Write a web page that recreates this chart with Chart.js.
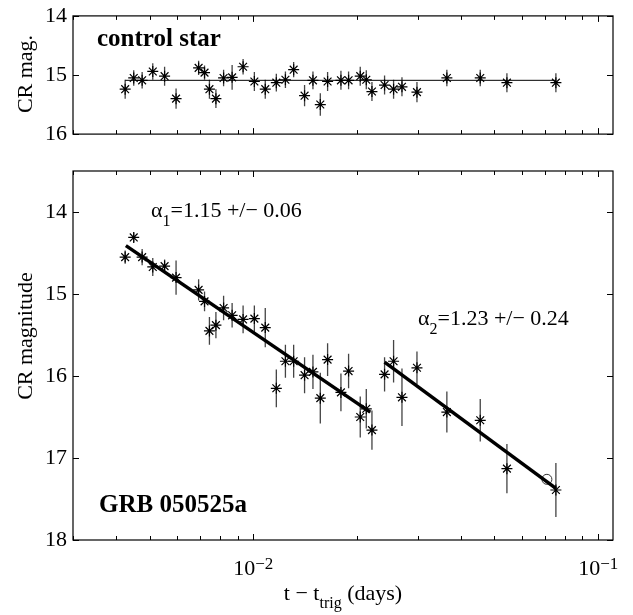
<!DOCTYPE html>
<html>
<head>
<meta charset="utf-8">
<script src="https://cdn.jsdelivr.net/npm/chart.js@4.4.1/dist/chart.umd.min.js"></script>
<style>
  html, body { margin: 0; padding: 0; background: #fff; }
  #wrap { position: relative; width: 633px; height: 615px; }
  canvas { position: absolute; left: 0; }
  #topChart { top: 0; }
  #botChart { top: 150px; }
</style>
</head>
<body>
<div id="wrap">
  <canvas id="topChart" width="633" height="150"></canvas>
  <canvas id="botChart" width="633" height="465"></canvas>
</div>
<script>
// ---------- data ----------
const times = [0.00425, 0.00450, 0.00476, 0.00511, 0.00553, 0.00597, 0.00694, 0.00722, 0.00746,
  0.00779, 0.00820, 0.00868, 0.00934, 0.01007, 0.01083, 0.01166, 0.01239, 0.01309, 0.01408,
  0.01489, 0.01564, 0.01642, 0.01795, 0.01889, 0.02042, 0.02126, 0.02208, 0.02402, 0.02551,
  0.02698, 0.02982, 0.03641, 0.04550, 0.05437, 0.07540];

const controlMag = [15.24, 15.05, 15.09, 14.94, 15.02, 15.40, 14.88, 14.96, 15.24, 15.40, 15.05,
  15.04, 14.86, 15.11, 15.24, 15.13, 15.08, 14.91, 15.35, 15.09, 15.50, 15.11, 15.09, 15.09,
  15.02, 15.08, 15.28, 15.17, 15.24, 15.20, 15.29, 15.05, 15.05, 15.13, 15.13];
const controlErr = [0.16, 0.13, 0.14, 0.14, 0.16, 0.17, 0.12, 0.12, 0.16, 0.16, 0.14, 0.21, 0.13,
  0.16, 0.16, 0.15, 0.14, 0.13, 0.18, 0.15, 0.19, 0.16, 0.16, 0.15, 0.16, 0.16, 0.16, 0.16,
  0.16, 0.16, 0.17, 0.14, 0.14, 0.16, 0.16];
const controlLevel = 15.09;

const grbMag = [14.55, 14.31, 14.55, 14.67, 14.66, 14.80, 14.95, 15.09, 15.45, 15.38, 15.17, 15.26,
  15.31, 15.30, 15.41, 16.15, 15.82, 15.82, 15.99, 15.95, 16.27, 15.80, 16.20, 15.94, 16.50,
  16.40, 16.66, 15.98, 15.82, 16.26, 15.90, 16.44, 16.54, 17.13, 17.39];
const grbErr = [0.08, 0.06, 0.10, 0.11, 0.08, 0.21, 0.13, 0.12, 0.17, 0.16, 0.15, 0.15, 0.17, 0.16,
  0.24, 0.23, 0.20, 0.20, 0.22, 0.21, 0.31, 0.20, 0.23, 0.21, 0.25, 0.24, 0.24, 0.21, 0.26,
  0.35, 0.20, 0.25, 0.26, 0.30, 0.33];

// fitted power-law segments (end points)
const fit1T = [0.00427, 0.02183];
const fit1M = [14.41, 16.44];
const fit2T = [0.02402, 0.07540];
const fit2M = [15.83, 17.37];

// open circle near the last point
const circleT = [0.0710];
const circleM = [17.26];

// ticks
const xTicks = [0.003, 0.004, 0.005, 0.006, 0.007, 0.008, 0.009, 0.01,
  0.02, 0.03, 0.04, 0.05, 0.06, 0.07, 0.08, 0.09, 0.1];
const xMajor = [0.01, 0.1];
const xLabelExp = ['\u22122', '\u22121'];
const yTicksTop = [14, 15, 16];
const yTicksBot = [14, 15, 16, 17, 18];

const FONT = "'Liberation Serif', 'Times New Roman', serif";

// ---------- helpers ----------
function pts(xs, ys) {
  return xs.map((x, i) => ({ x, y: ys[i] }));
}

function errorSegments(xs, ys, es) {
  const out = [];
  xs.forEach((x, i) => {
    out.push({ x, y: ys[i] - es[i] });
    out.push({ x, y: ys[i] + es[i] });
    out.push({ x, y: null });
  });
  return out;
}

// draw a run of text pieces (for sub/superscripts)
function drawRuns(ctx, x, y, runs, align) {
  let total = 0;
  runs.forEach(r => {
    ctx.font = (r.bold ? 'bold ' : '') + r.size + 'px ' + FONT;
    r.w = ctx.measureText(r.t).width;
    total += r.w;
  });
  let cx = align === 'center' ? x - total / 2 : x;
  ctx.textAlign = 'left';
  ctx.textBaseline = 'alphabetic';
  runs.forEach(r => {
    ctx.font = (r.bold ? 'bold ' : '') + r.size + 'px ' + FONT;
    ctx.fillText(r.t, cx, y + (r.dy || 0));
    cx += r.w;
  });
}

// box frame with inward ticks on all four sides
function drawFrame(chart, yTicks) {
  const { ctx, chartArea: a, scales: { x, y } } = chart;
  ctx.save();
  ctx.strokeStyle = '#000';
  ctx.lineWidth = 1.2;
  ctx.strokeRect(a.left, a.top, a.right - a.left, a.bottom - a.top);
  ctx.lineWidth = 1;
  ctx.beginPath();
  xTicks.forEach(v => {
    const px = Math.round(x.getPixelForValue(v)) + 0.5;
    const len = xMajor.includes(v) ? 6 : 4;
    ctx.moveTo(px, a.bottom); ctx.lineTo(px, a.bottom - len);
    ctx.moveTo(px, a.top); ctx.lineTo(px, a.top + len);
  });
  yTicks.forEach(v => {
    const py = Math.round(y.getPixelForValue(v)) + 0.5;
    ctx.moveTo(a.left, py); ctx.lineTo(a.left + 6, py);
    ctx.moveTo(a.right, py); ctx.lineTo(a.right - 6, py);
  });
  ctx.stroke();
  ctx.restore();
}

function yTitle(ctx, text, cx, cy) {
  ctx.save();
  ctx.translate(cx, cy);
  ctx.rotate(-Math.PI / 2);
  ctx.font = '22px ' + FONT;
  ctx.fillStyle = '#000';
  ctx.textAlign = 'center';
  ctx.textBaseline = 'middle';
  ctx.fillText(text, 0, 0);
  ctx.restore();
}

function makeOptions(yMin, yMax, yTicks, padTop, xHeight) {
  return {
    responsive: false,
    animation: false,
    layout: { padding: { left: 0, right: 20, top: padTop, bottom: 0 } },
    plugins: { legend: { display: false }, tooltip: { enabled: false } },
    scales: {
      x: {
        type: 'logarithmic',
        min: 0.003,
        max: 0.1104,
        grid: { display: false, drawTicks: false },
        border: { display: false },
        ticks: { display: false },
        afterFit: s => { s.height = xHeight; }
      },
      y: {
        type: 'linear',
        reverse: true,
        min: yMin,
        max: yMax,
        grid: { display: false, drawTicks: false },
        border: { display: false },
        afterBuildTicks: s => { s.ticks = yTicks.map(v => ({ value: v })); },
        ticks: {
          color: '#000',
          padding: 6,
          font: { family: FONT, size: 22, lineHeight: 0.9 },
          callback: v => String(v)
        },
        afterFit: s => { s.width = 73; }
      }
    }
  };
}

const starStyle = {
  showLine: false,
  pointStyle: 'star',
  pointRadius: 5.5,
  pointBorderWidth: 1.2,
  pointBorderColor: '#000',
  pointBackgroundColor: '#000'
};

const errStyle = {
  showLine: true,
  pointRadius: 0,
  borderColor: '#444',
  borderWidth: 1.3,
  spanGaps: false
};

// ---------- top panel: control star ----------
new Chart(document.getElementById('topChart'), {
  type: 'scatter',
  data: {
    datasets: [
      { data: pts([times[0], times[times.length - 1]], [controlLevel, controlLevel]),
        showLine: true, pointRadius: 0, borderColor: '#000', borderWidth: 1 },
      { data: pts(times, controlMag), ...starStyle },
      { data: errorSegments(times, controlMag, controlErr), ...errStyle }
    ]
  },
  options: makeOptions(14, 16, yTicksTop, 10, 12),
  plugins: [{
    id: 'topDecor',
    afterDraw(chart) {
      const ctx = chart.ctx;
      drawFrame(chart, yTicksTop);
      ctx.save();
      ctx.fillStyle = '#000';
      drawRuns(ctx, 97, 46, [{ t: 'control star', size: 25, bold: true }], 'left');
      ctx.restore();
      yTitle(ctx, 'CR mag.', 26, 74);
    }
  }]
});

// ---------- bottom panel: GRB 050525a ----------
new Chart(document.getElementById('botChart'), {
  type: 'scatter',
  data: {
    datasets: [
      { data: pts(fit1T, fit1M), showLine: true, pointRadius: 0, borderColor: '#000', borderWidth: 3.5 },
      { data: pts(fit2T, fit2M), showLine: true, pointRadius: 0, borderColor: '#000', borderWidth: 3.5 },
      { data: pts(circleT, circleM), showLine: false, pointStyle: 'circle', pointRadius: 5,
        pointBorderColor: '#333', pointBorderWidth: 1, pointBackgroundColor: 'rgba(0,0,0,0)' },
      { data: pts(times, grbMag), ...starStyle },
      { data: errorSegments(times, grbMag, grbErr), ...errStyle }
    ]
  },
  options: makeOptions(13.5, 18, yTicksBot, 21, 75),
  plugins: [{
    id: 'botDecor',
    afterDraw(chart) {
      const ctx = chart.ctx;
      const x = chart.scales.x;
      drawFrame(chart, yTicksBot);
      ctx.save();
      ctx.fillStyle = '#000';
      drawRuns(ctx, 99, 362, [{ t: 'GRB 050525a', size: 25, bold: true }], 'left');
      drawRuns(ctx, 151, 67, [
        { t: '\u03b1', size: 22 },
        { t: '1', size: 16, dy: 9 },
        { t: '=1.15 +/\u2212 0.06', size: 22 }
      ], 'left');
      drawRuns(ctx, 418, 175, [
        { t: '\u03b1', size: 22 },
        { t: '2', size: 16, dy: 9 },
        { t: '=1.23 +/\u2212 0.24', size: 22 }
      ], 'left');
      xMajor.forEach((v, i) => {
        drawRuns(ctx, x.getPixelForValue(v), 425, [
          { t: '10', size: 22 },
          { t: xLabelExp[i], size: 17, dy: -6 }
        ], 'center');
      });
      const a = chart.chartArea;
      drawRuns(ctx, (a.left + a.right) / 2, 450, [
        { t: 't \u2212 t', size: 22 },
        { t: 'trig', size: 16, dy: 8 },
        { t: ' (days)', size: 22 }
      ], 'center');
      ctx.restore();
      yTitle(ctx, 'CR magnitude', 26, 186);
    }
  }]
});
</script>
</body>
</html>
